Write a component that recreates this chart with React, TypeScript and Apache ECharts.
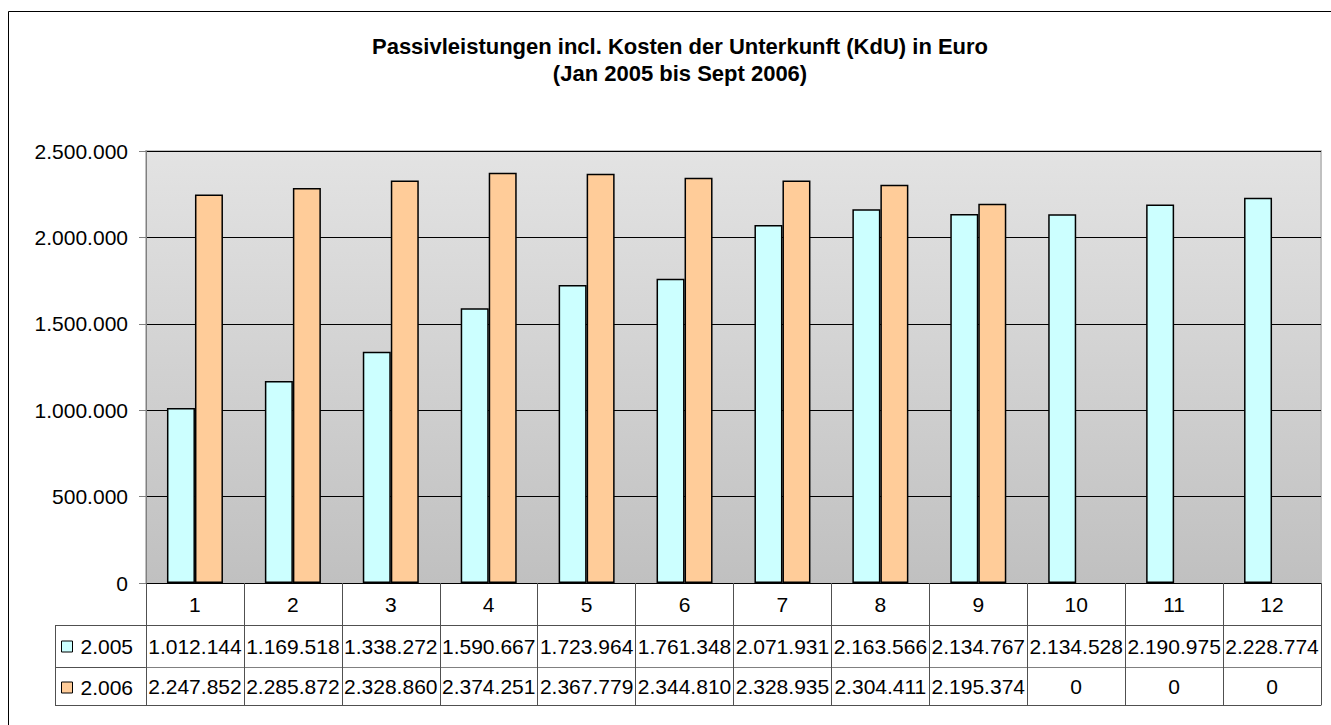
import React, { useEffect, useRef } from "react";
import * as echarts from "echarts";

const months = ["1", "2", "3", "4", "5", "6", "7", "8", "9", "10", "11", "12"];
const seriesNames = ["2.005", "2.006"];
const values2005 = [1012144, 1169518, 1338272, 1590667, 1723964, 1761348, 2071931, 2163566, 2134767, 2134528, 2190975, 2228774];
const values2006 = [2247852, 2285872, 2328860, 2374251, 2367779, 2344810, 2328935, 2304411, 2195374, 0, 0, 0];
const titleLines = ["Passivleistungen incl. Kosten der Unterkunft (KdU) in Euro", "(Jan 2005 bis Sept 2006)"];
const yMin = 0;
const yMax = 2500000;
const yStep = 500000;

const fmt = (n: number) => String(n).replace(/\B(?=(\d{3})+(?!\d))/g, ".");
const barData = (arr: number[]) =>
  arr.map((v) => (v === 0 ? { value: v, itemStyle: { borderWidth: 0 } } : v));

const FONT = "'Liberation Sans', Arial, sans-serif";
const FS = 21;
const LINE = "#505050";

export default function App() {
  const ref = useRef<HTMLDivElement>(null);
  useEffect(() => {
    if (!ref.current) return;
    const chart = echarts.init(ref.current, undefined, { renderer: "svg" });
    const gridLeft = 146, gridTop = 151, gridRight = 10, gridBottom = 142;
    const tableAxisBase = {
      type: "category" as const,
      position: "bottom" as const,
      boundaryGap: true,
      axisTick: { show: false },
      splitLine: { show: false },
    };
    chart.setOption({
      animation: false,
      backgroundColor: "#ffffff",
      title: {
        text: titleLines.join("\n"),
        left: 675,
        top: 28,
        textAlign: "center",
        textStyle: { fontFamily: FONT, fontSize: 22, fontWeight: "bold", color: "#000", lineHeight: 27 },
      },
      legend: {
        data: seriesNames,
        orient: "vertical",
        left: 61,
        top: 636,
        padding: 0,
        itemGap: 20,
        itemWidth: 11,
        itemHeight: 11,
        icon: "rect",
        itemStyle: { borderColor: "#000", borderWidth: 1 },
        textStyle: { fontFamily: FONT, fontSize: FS, color: "#000", padding: [0, 0, 0, 3] },
        selectedMode: false,
      },
      grid: {
        left: gridLeft,
        top: gridTop,
        right: gridRight,
        bottom: gridBottom,
        show: true,
        borderColor: "#c0c0c0",
        borderWidth: 2,
        backgroundColor: new echarts.graphic.LinearGradient(0, 0, 0, 1, [
          { offset: 0, color: "#e3e3e3" },
          { offset: 1, color: "#c0c0c0" },
        ]),
      },
      xAxis: [
        {
          type: "category",
          data: months,
          position: "bottom",
          boundaryGap: true,
          axisLine: { show: true, onZero: false, lineStyle: { color: "#000", width: 1 } },
          axisTick: { show: true, inside: false, length: 122, lineStyle: { color: LINE, width: 1 } },
          axisLabel: { interval: 0, margin: 21, verticalAlign: "middle", fontFamily: FONT, fontSize: FS, color: "#000" },
          splitLine: { show: false },
        },
        {
          ...tableAxisBase,
          data: values2005.map(fmt),
          offset: 42,
          axisLine: { show: true, onZero: false, lineStyle: { color: LINE, width: 1 } },
          axisLabel: { interval: 0, margin: 21, verticalAlign: "middle", fontFamily: FONT, fontSize: FS, color: "#000" },
        },
        {
          ...tableAxisBase,
          data: values2006.map(fmt),
          offset: 84,
          axisLine: { show: true, onZero: false, lineStyle: { color: "#808080", width: 1 } },
          axisLabel: { interval: 0, margin: 19, verticalAlign: "middle", fontFamily: FONT, fontSize: FS, color: "#000" },
        },
        {
          ...tableAxisBase,
          data: months,
          offset: 122,
          axisLine: { show: true, onZero: false, lineStyle: { color: LINE, width: 1 } },
          axisLabel: { show: false },
        },
      ],
      yAxis: {
        type: "value",
        min: yMin,
        max: yMax,
        interval: yStep,
        axisLine: { show: true, lineStyle: { color: "#808080", width: 1 } },
        axisTick: { show: true, length: 7, lineStyle: { color: "#808080" } },
        axisLabel: { margin: 18, fontFamily: FONT, fontSize: FS, color: "#000", formatter: (v: number) => fmt(v) },
        splitLine: { show: true, lineStyle: { color: "#000", width: 1 } },
      },
      series: [
        {
          name: seriesNames[0],
          type: "bar",
          xAxisIndex: 0,
          data: barData(values2005),
          barWidth: 28,
          barGap: "0%",
          itemStyle: { color: "#ccffff", borderColor: "#000", borderWidth: 1.5 },
        },
        {
          name: seriesNames[1],
          type: "bar",
          xAxisIndex: 0,
          data: barData(values2006),
          barWidth: 28,
          barGap: "0%",
          itemStyle: { color: "#ffcc99", borderColor: "#000", borderWidth: 1.5 },
        },
      ],
      graphic: [
        { type: "polyline", silent: true, shape: { points: [[8.5, 725], [8.5, 11.5], [1331, 11.5]] }, style: { stroke: "#000", lineWidth: 1, fill: null } },
        { type: "line", silent: true, shape: { x1: 55, y1: 625.5, x2: 146, y2: 625.5 }, style: { stroke: LINE, lineWidth: 1 } },
        { type: "line", silent: true, shape: { x1: 55, y1: 667.5, x2: 146, y2: 667.5 }, style: { stroke: LINE, lineWidth: 1 } },
        { type: "line", silent: true, shape: { x1: 55, y1: 705.5, x2: 146, y2: 705.5 }, style: { stroke: LINE, lineWidth: 1 } },
        { type: "line", silent: true, shape: { x1: 55.5, y1: 625, x2: 55.5, y2: 706 }, style: { stroke: LINE, lineWidth: 1 } },
      ],
    });
    return () => chart.dispose();
  }, []);
  return (
    <div
      ref={ref}
      style={{ position: "fixed", left: 0, top: 0, width: 1331, height: 725 }}
    />
  );
}
